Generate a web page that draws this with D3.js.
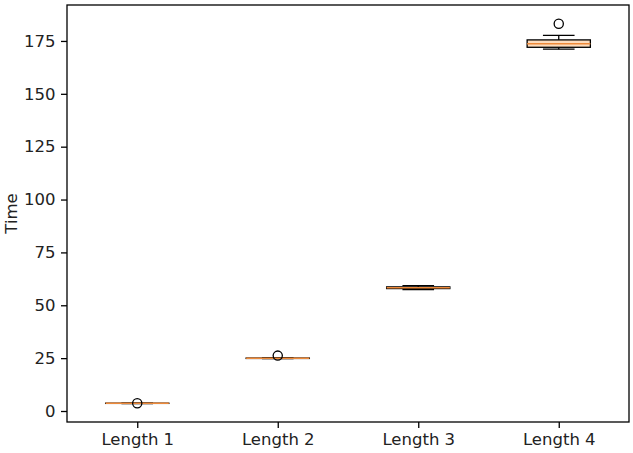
<!DOCTYPE html>
<html>
<head>
<meta charset="utf-8">
<script src="https://cdn.jsdelivr.net/npm/d3@7"></script>
<style>
  body { margin: 0; background: #fff; }
  svg text { font-family: "DejaVu Sans", sans-serif; fill: #222; }
</style>
</head>
<body>
<script>
// box statistics
const categories = ['Length 1', 'Length 2', 'Length 3', 'Length 4'];
const whiskerLow = [3.55, 24.75, 57.4, 171.1];
const q1 = [3.6, 24.85, 57.9, 172.0];
const median = [3.65, 24.95, 58.3, 173.7];
const q3 = [3.7, 25.05, 58.7, 175.5];
const whiskerHigh = [3.75, 25.2, 59.3, 177.6];
const outliers = [[3.7], [26.2], [], [183.1]];
const yTicks = [0, 25, 50, 75, 100, 125, 150, 175];

const width = 633, height = 453;
const margin = {left: 67, right: 4, top: 5, bottom: 31};

let svg = d3.select('body').append('svg')
  .attr('width', width)
  .attr('height', height);

let x = d3.scaleLinear()
  .domain([0.5, 4.5])
  .range([margin.left, width - margin.right]);

let y = d3.scaleLinear()
  .domain([-5.2, 192])
  .range([height - margin.bottom, margin.top]);

let boxW = (x(1) - x(0)) * 0.45;
let capW = boxW / 2;
let lw = 1.3;

let data = categories.map((c, i) => ({
  name: c, pos: i + 1,
  lo: whiskerLow[i], q1: q1[i], med: median[i], q3: q3[i], hi: whiskerHigh[i],
  fl: outliers[i]
}));

let g = svg.selectAll('g.box')
  .data(data)
  .enter()
  .append('g')
  .attr('class', 'box');

// whiskers
g.append('line')
  .attr('x1', d => x(d.pos)).attr('x2', d => x(d.pos))
  .attr('y1', d => y(d.q1)).attr('y2', d => y(d.lo))
  .attr('stroke', '#000').attr('stroke-width', lw);
g.append('line')
  .attr('x1', d => x(d.pos)).attr('x2', d => x(d.pos))
  .attr('y1', d => y(d.q3)).attr('y2', d => y(d.hi))
  .attr('stroke', '#000').attr('stroke-width', lw);
// caps
g.selectAll('line.cap')
  .data(d => [{pos: d.pos, v: d.lo}, {pos: d.pos, v: d.hi}])
  .enter()
  .append('line')
  .attr('class', 'cap')
  .attr('x1', d => x(d.pos) - capW / 2).attr('x2', d => x(d.pos) + capW / 2)
  .attr('y1', d => y(d.v)).attr('y2', d => y(d.v))
  .attr('stroke', '#000').attr('stroke-width', lw);

// box
g.append('rect')
  .attr('x', d => x(d.pos) - boxW / 2)
  .attr('width', boxW)
  .attr('y', d => y(d.q3))
  .attr('height', d => Math.max(y(d.q1) - y(d.q3), 0.2))
  .attr('fill', '#fddcbc')
  .attr('stroke', '#000')
  .attr('stroke-width', lw);

// median
g.append('line')
  .attr('x1', d => x(d.pos) - boxW / 2).attr('x2', d => x(d.pos) + boxW / 2)
  .attr('y1', d => y(d.med)).attr('y2', d => y(d.med))
  .attr('stroke', '#ee8a3a').attr('stroke-width', 1.6);

// outliers
g.selectAll('circle')
  .data(d => d.fl.map(v => ({pos: d.pos, v: v})))
  .enter()
  .append('circle')
  .attr('cx', d => x(d.pos))
  .attr('cy', d => y(d.v))
  .attr('r', 4.6)
  .attr('fill', 'none')
  .attr('stroke', '#000')
  .attr('stroke-width', lw);

// axes
let yAxis = svg.append('g')
  .attr('transform', `translate(${margin.left},0)`)
  .call(d3.axisLeft(y).tickValues(yTicks).tickSize(6).tickPadding(5.5));
let xAxis = svg.append('g')
  .attr('transform', `translate(0,${height - margin.bottom})`)
  .call(d3.axisBottom(x).tickValues([1, 2, 3, 4]).tickFormat((d, i) => categories[i]).tickSize(6).tickPadding(5.5));

[xAxis, yAxis].forEach(a => {
  a.select('.domain').remove();
  a.selectAll('.tick line').attr('stroke', '#000').attr('stroke-width', lw);
  a.selectAll('.tick text').attr('font-size', '16.5px').style('fill', '#222');
});

// frame
svg.append('rect')
  .attr('x', margin.left).attr('y', margin.top)
  .attr('width', width - margin.left - margin.right)
  .attr('height', height - margin.top - margin.bottom)
  .attr('fill', 'none')
  .attr('stroke', '#000')
  .attr('stroke-width', lw);

svg.append('text')
  .attr('transform', `translate(17,${(margin.top + height - margin.bottom) / 2}) rotate(-90)`)
  .attr('text-anchor', 'middle')
  .attr('font-size', '16.5px')
  .text('Time');
</script>
</body>
</html>
